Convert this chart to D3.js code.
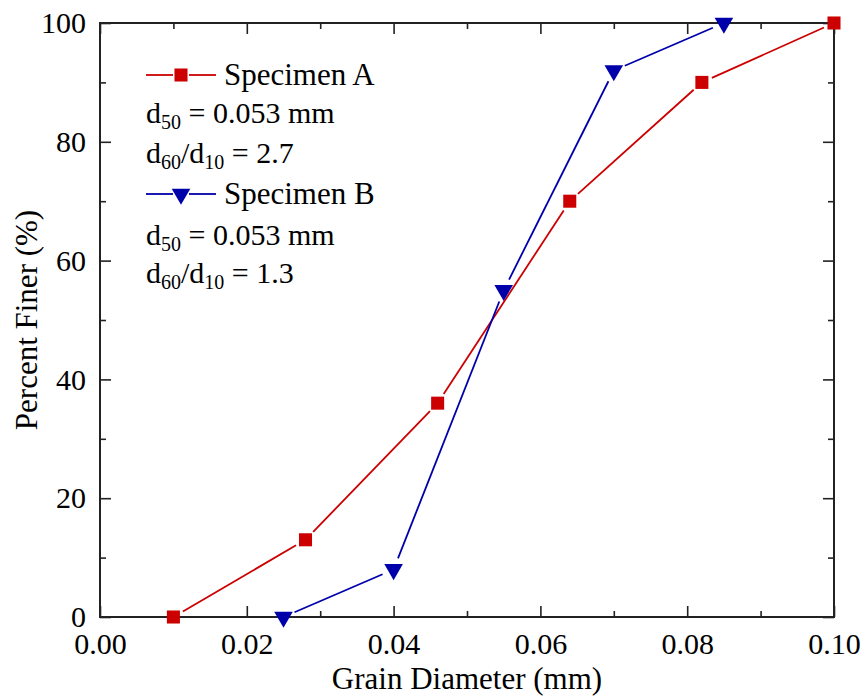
<!DOCTYPE html>
<html>
<head>
<meta charset="utf-8">
<script src="https://cdn.jsdelivr.net/npm/d3@7"></script>
<style>
  html, body { margin: 0; padding: 0; background: #fff; }
  svg { display: block; }
  svg text { font-family: "Liberation Serif", "Times New Roman", Tinos, "DejaVu Serif", serif !important; fill: #000; }
</style>
</head>
<body>
<svg id="chart" width="866" height="698" font-family="Liberation Serif, DejaVu Serif, serif"></svg>
<script>
// Grain-size distribution of two specimens
const diamA = [0.010, 0.028, 0.046, 0.064, 0.082, 0.100];
const finerA = [0, 13, 36, 70, 90, 100];
const diamB = [0.025, 0.040, 0.055, 0.070, 0.085];
const finerB = [0, 8, 55, 92, 100];

const xMajorTicks = [0.00, 0.02, 0.04, 0.06, 0.08, 0.10];
const xMinorTicks = [0.01, 0.03, 0.05, 0.07, 0.09];
const yMajorTicks = [0, 20, 40, 60, 80, 100];
const yMinorTicks = [10, 30, 50, 70, 90];

const seriesNames = ["Specimen A", "Specimen B"];
const d50Values = ["0.053", "0.053"];
const uniformity = ["2.7", "1.3"];

const colorA = "#cc0000";
const colorB = "#0000aa";

const serif = "'Liberation Serif', 'Times New Roman', Tinos, 'DejaVu Serif', serif";

const svg = d3.select("#chart");
const plotLeft = 100, plotRight = 834, plotTop = 23, plotBottom = 617;

const x = d3.scaleLinear().domain([0, 0.1]).range([plotLeft, plotRight]);
const y = d3.scaleLinear().domain([0, 100]).range([plotBottom, plotTop]);

const axisColor = "#222";
const majorLen = 11, minorLen = 6;

function styleAxis(g) {
  g.attr("font-family", null).attr("font-size", null);
  g.select(".domain").remove();
  g.selectAll(".tick line").attr("stroke", axisColor).attr("stroke-width", 1.6);
  g.selectAll(".tick text").style("font-family", serif).style("font-size", "30px").attr("fill", "#000");
}

// bottom axis with labels
svg.append("g").attr("transform", `translate(0,${plotBottom})`)
  .call(d3.axisBottom(x).tickValues(xMajorTicks).tickSize(-majorLen).tickPadding(16)
    .tickFormat(d3.format(".2f")))
  .call(styleAxis);
svg.append("g").attr("transform", `translate(0,${plotBottom})`)
  .call(d3.axisBottom(x).tickValues(xMinorTicks).tickSize(-minorLen).tickFormat(""))
  .call(styleAxis);
// top axis (ticks only)
svg.append("g").attr("transform", `translate(0,${plotTop})`)
  .call(d3.axisTop(x).tickValues(xMajorTicks).tickSize(-majorLen).tickFormat(""))
  .call(styleAxis);
svg.append("g").attr("transform", `translate(0,${plotTop})`)
  .call(d3.axisTop(x).tickValues(xMinorTicks).tickSize(-minorLen).tickFormat(""))
  .call(styleAxis);
// left axis with labels
svg.append("g").attr("transform", `translate(${plotLeft},0)`)
  .call(d3.axisLeft(y).tickValues(yMajorTicks).tickSize(-majorLen).tickPadding(14))
  .call(styleAxis);
svg.append("g").attr("transform", `translate(${plotLeft},0)`)
  .call(d3.axisLeft(y).tickValues(yMinorTicks).tickSize(-minorLen).tickFormat(""))
  .call(styleAxis);
// right axis (ticks only)
svg.append("g").attr("transform", `translate(${plotRight},0)`)
  .call(d3.axisRight(y).tickValues(yMajorTicks).tickSize(-majorLen).tickFormat(""))
  .call(styleAxis);
svg.append("g").attr("transform", `translate(${plotRight},0)`)
  .call(d3.axisRight(y).tickValues(yMinorTicks).tickSize(-minorLen).tickFormat(""))
  .call(styleAxis);

// frame
svg.append("rect")
  .attr("x", plotLeft).attr("y", plotTop)
  .attr("width", plotRight - plotLeft).attr("height", plotBottom - plotTop)
  .attr("fill", "none").attr("stroke", axisColor).attr("stroke-width", 2);

// axis titles
svg.append("text")
  .attr("x", (plotLeft + plotRight) / 2).attr("y", 689)
  .attr("text-anchor", "middle").style("font-family", serif).style("font-size", "31px")
  .text("Grain Diameter (mm)");
svg.append("text")
  .attr("transform", `translate(37,${(plotTop + plotBottom) / 2}) rotate(-90)`)
  .attr("text-anchor", "middle").style("font-family", serif).style("font-size", "31px")
  .text("Percent Finer (%)");

// segments between consecutive points, trimmed so they stop short of the markers
function drawSeries(xs, ys, color, symbolType, size, rotate, gap) {
  const pts = xs.map((d, i) => [x(d), y(ys[i])]);
  const g = svg.append("g");
  for (let i = 0; i < pts.length - 1; i++) {
    const [x0, y0] = pts[i], [x1, y1] = pts[i + 1];
    const len = Math.hypot(x1 - x0, y1 - y0);
    const ux = (x1 - x0) / len, uy = (y1 - y0) / len;
    g.append("line")
      .attr("x1", x0 + ux * gap).attr("y1", y0 + uy * gap)
      .attr("x2", x1 - ux * gap).attr("y2", y1 - uy * gap)
      .attr("stroke", color).attr("stroke-width", 1.8);
  }
  g.selectAll("path.mk").data(pts).enter().append("path")
    .attr("class", "mk")
    .attr("d", d3.symbol().type(symbolType).size(size))
    .attr("transform", d => `translate(${d[0]},${d[1]}) rotate(${rotate})`)
    .attr("fill", color);
}

drawSeries(diamA, finerA, colorA, d3.symbolSquare, 170, 0, 11);
drawSeries(diamB, finerB, colorB, d3.symbolTriangle, 150, 180, 12);

// legend with annotations
function legendEntry(yc, color, symbolType, size, rotate, name) {
  const g = svg.append("g");
  g.append("line").attr("x1", 146).attr("x2", 173).attr("y1", yc).attr("y2", yc)
    .attr("stroke", color).attr("stroke-width", 1.8);
  g.append("line").attr("x1", 189).attr("x2", 216).attr("y1", yc).attr("y2", yc)
    .attr("stroke", color).attr("stroke-width", 1.8);
  g.append("path")
    .attr("d", d3.symbol().type(symbolType).size(size))
    .attr("transform", `translate(181,${yc}) rotate(${rotate})`)
    .attr("fill", color);
  g.append("text").attr("x", 224).attr("y", yc + 10)
    .style("font-family", serif).style("font-size", "31px").text(name);
}

function subText(yb, parts) {
  const t = svg.append("text").attr("x", 146).attr("y", yb)
    .style("font-family", serif).style("font-size", "30px");
  parts.forEach(p => {
    const s = t.append("tspan").text(p.t);
    if (p.sub) s.style("font-size", "20px").attr("dy", 6);
    else if (p.up) s.attr("dy", -6);
  });
}

legendEntry(75, colorA, d3.symbolSquare, 170, 0, seriesNames[0]);
subText(123, [{t: "d"}, {t: "50", sub: true}, {t: " = " + d50Values[0] + " mm", up: true}]);
subText(163, [{t: "d"}, {t: "60", sub: true}, {t: "/d", up: true}, {t: "10", sub: true}, {t: " = " + uniformity[0], up: true}]);
legendEntry(194, colorB, d3.symbolTriangle, 150, 180, seriesNames[1]);
subText(245, [{t: "d"}, {t: "50", sub: true}, {t: " = " + d50Values[1] + " mm", up: true}]);
subText(283, [{t: "d"}, {t: "60", sub: true}, {t: "/d", up: true}, {t: "10", sub: true}, {t: " = " + uniformity[1], up: true}]);
</script>
</body>
</html>
